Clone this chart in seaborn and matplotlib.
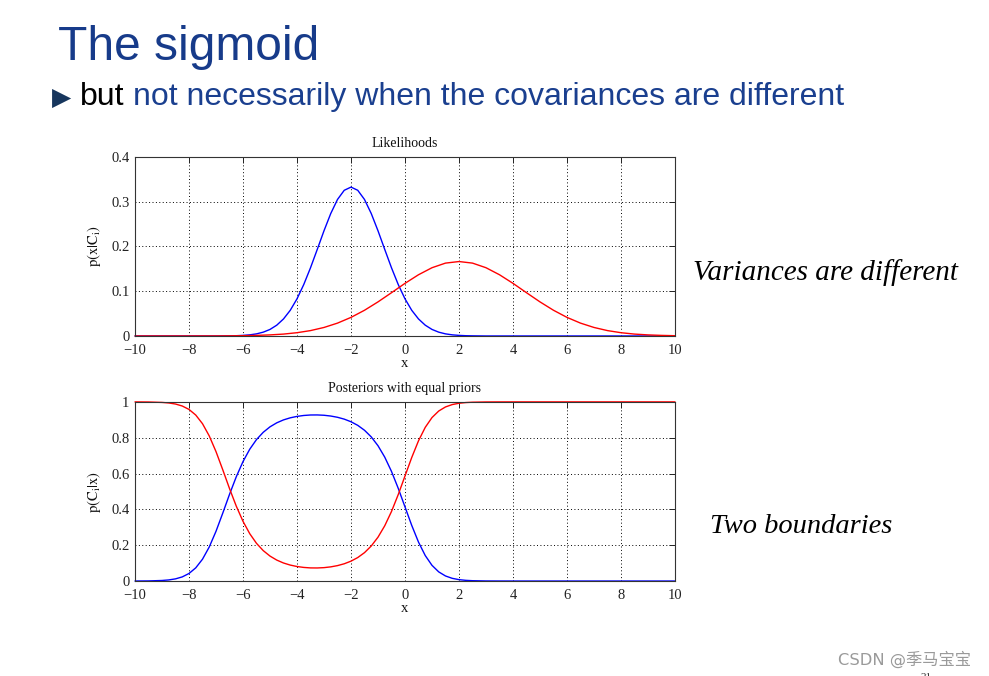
import matplotlib
matplotlib.use("Agg")
import matplotlib.pyplot as plt
import seaborn as sns

# likelihoods p(x|Ci)
lik_x_red = [-10, -9.5, -9, -8.5, -8, -7.5, -7, -6.5, -6, -5.5, -5, -4.5, -4, -3.5, -3,
             -2.5, -2, -1.5, -1, -0.5, 0, 0.5, 1, 1.5, 2, 2.5, 3, 3.5, 4, 4.5, 5, 5.5,
             6, 6.5, 7, 7.5, 8, 8.5, 9, 9.5, 10]
lik_red = [0.0000, 0.0000, 0.0000, 0.0000, 0.0000, 0.0001, 0.0001, 0.0003, 0.0006, 0.0013,
           0.0024, 0.0042, 0.0073, 0.0120, 0.0190, 0.0287, 0.0415, 0.0574, 0.0761, 0.0966,
           0.1175, 0.1367, 0.1524, 0.1627, 0.1662, 0.1627, 0.1524, 0.1367, 0.1175, 0.0966,
           0.0761, 0.0574, 0.0415, 0.0287, 0.0190, 0.0120, 0.0073, 0.0042, 0.0024, 0.0013,
           0.0006]

lik_x_blue = [-10, -9, -8, -7, -6.5, -6.25, -6, -5.75, -5.5, -5.25, -5, -4.75, -4.5, -4.25,
              -4, -3.75, -3.5, -3.25, -3, -2.75, -2.5, -2.25, -2, -1.75, -1.5, -1.25, -1,
              -0.75, -0.5, -0.25, 0, 0.25, 0.5, 0.75, 1, 1.25, 1.5, 1.75, 2, 2.25, 2.5,
              3, 4, 5, 6, 7, 8, 9, 10]
lik_blue = [0.0, 0.0, 0.0, 0.0, 0.0003, 0.0006, 0.0013, 0.0025, 0.0047, 0.0085, 0.0146,
            0.0241, 0.0380, 0.0573, 0.0829, 0.1148, 0.1522, 0.1932, 0.2349, 0.2734, 0.3048,
            0.3253, 0.3324, 0.3253, 0.3048, 0.2734, 0.2349, 0.1932, 0.1522, 0.1148, 0.0829,
            0.0573, 0.0380, 0.0241, 0.0146, 0.0085, 0.0047, 0.0025, 0.0013, 0.0006, 0.0003,
            0.0, 0.0, 0.0, 0.0, 0.0, 0.0, 0.0, 0.0]

# posteriors p(Ci|x) with equal priors, lower panel
post_x = [-10, -9.5, -9, -8.75, -8.5, -8.25, -8, -7.75, -7.5, -7.25, -7, -6.75, -6.5,
          -6.25, -6, -5.75, -5.5, -5.25, -5, -4.75, -4.5, -4.25, -4, -3.75, -3.5, -3.25,
          -3, -2.75, -2.5, -2.25, -2, -1.75, -1.5, -1.25, -1, -0.75, -0.5, -0.25, 0,
          0.25, 0.5, 0.75, 1, 1.25, 1.5, 1.75, 2, 2.25, 2.5, 3, 3.5, 4, 5, 6, 7, 8, 9, 10]
post_blue = [0.0001, 0.0006, 0.0030, 0.0061, 0.0120, 0.0230, 0.0421, 0.0735, 0.1218, 0.1900,
             0.2775, 0.3787, 0.4836, 0.5816, 0.6667, 0.7358, 0.7897, 0.8303, 0.8607, 0.8831,
             0.8994, 0.9110, 0.9190, 0.9241, 0.9268, 0.9271, 0.9253, 0.9210, 0.9140, 0.9037,
             0.8891, 0.8690, 0.8416, 0.8045, 0.7553, 0.6915, 0.6117, 0.5173, 0.4137, 0.3103,
             0.2173, 0.1422, 0.0875, 0.0509, 0.0282, 0.0150, 0.0077, 0.0038, 0.0018, 0.0004,
             0.0001, 0.0, 0.0, 0.0, 0.0, 0.0, 0.0, 0.0]
post_red = [0.9999, 0.9994, 0.9970, 0.9939, 0.9880, 0.9770, 0.9579, 0.9265, 0.8782, 0.8100,
            0.7225, 0.6213, 0.5164, 0.4184, 0.3333, 0.2642, 0.2103, 0.1697, 0.1393, 0.1169,
            0.1006, 0.0890, 0.0810, 0.0759, 0.0732, 0.0729, 0.0747, 0.0790, 0.0860, 0.0963,
            0.1109, 0.1310, 0.1584, 0.1955, 0.2447, 0.3085, 0.3883, 0.4827, 0.5863, 0.6897,
            0.7827, 0.8578, 0.9125, 0.9491, 0.9718, 0.9850, 0.9923, 0.9962, 0.9982, 0.9996,
            0.9999, 1.0, 1.0, 1.0, 1.0, 1.0, 1.0, 1.0]

x_ticks = [-10, -8, -6, -4, -2, 0, 2, 4, 6, 8, 10]
lik_yticks = [0, 0.1, 0.2, 0.3, 0.4]
lik_yticklabels = ["0", "0.1", "0.2", "0.3", "0.4"]
post_yticks = [0, 0.2, 0.4, 0.6, 0.8, 1]
post_yticklabels = ["0", "0.2", "0.4", "0.6", "0.8", "1"]

sns.set_style("white")
plt.rcParams["font.family"] = ["Liberation Serif", "DejaVu Serif"]
plt.rcParams["mathtext.fontset"] = "stix"
plt.rcParams["axes.unicode_minus"] = True

fig = plt.figure(figsize=(9.89, 6.76), dpi=100)
ax1 = fig.add_axes([0.1365, 0.503, 0.546, 0.265])
ax2 = fig.add_axes([0.1365, 0.1405, 0.546, 0.265])


def style_axes(ax, yticks, ylabels, ylim, title, ylabel):
    ax.set_xlim(-10, 10)
    ax.set_ylim(*ylim)
    ax.set_xticks(x_ticks)
    ax.set_xticklabels([str(t).replace("-", "\u2212") for t in x_ticks])
    ax.set_yticks(yticks)
    ax.set_yticklabels(ylabels)
    ax.grid(True, linestyle=(0, (1, 2.5)), color="black", linewidth=0.7)
    ax.tick_params(direction="in", length=4, width=0.7, top=True, right=True,
                   labelsize=10.5, colors="#222222")
    ax.tick_params(axis="x", pad=6)
    ax.tick_params(axis="y", pad=4)
    for s in ax.spines.values():
        s.set_color("#333333")
        s.set_linewidth(0.8)
    ax.set_title(title, fontsize=10, color="#111111", pad=7)
    ax.set_xlabel("x", fontsize=10.5, labelpad=0, color="#111111")
    ax.set_ylabel(ylabel, fontsize=10.5, labelpad=6, color="#111111")


sns.lineplot(x=lik_x_blue, y=lik_blue, ax=ax1, color="blue", linewidth=1, clip_on=False)
sns.lineplot(x=lik_x_red, y=lik_red, ax=ax1, color="red", linewidth=1, clip_on=False)
style_axes(ax1, lik_yticks, lik_yticklabels, (0, 0.4), "Likelihoods", r"$\mathrm{p(x|C_i)}$")

sns.lineplot(x=post_x, y=post_blue, ax=ax2, color="blue", linewidth=1, clip_on=False)
sns.lineplot(x=post_x, y=post_red, ax=ax2, color="red", linewidth=1, clip_on=False)
style_axes(ax2, post_yticks, post_yticklabels, (0, 1), "Posteriors with equal priors",
           r"$\mathrm{p(C_i|x)}$")

W, H = 989, 676
sans = ["Liberation Sans", "DejaVu Sans"]
fig.text(58 / W, 1 - 60 / H, "The sigmoid", fontsize=34.5, color="#173b8a",
         family=sans, va="baseline")
fig.text(52 / W, 1 - 105 / H, "\u25B6", fontsize=18, color="#17365d",
         family=["DejaVu Sans"], va="baseline")
fig.text(80 / W, 1 - 105 / H, "but", fontsize=23, color="black", family=sans, va="baseline")
fig.text(133 / W, 1 - 105 / H, "not necessarily when the covariances are different",
         fontsize=23, color="#1a3f8f", family=sans, va="baseline")

fig.text(693 / W, 1 - 280 / H, "Variances are different", fontsize=21, style="italic",
         color="black", va="baseline")
fig.text(710 / W, 1 - 533 / H, "Two boundaries", fontsize=20.5, style="italic",
         color="black", va="baseline")

fig.text(838 / W, 1 - 665 / H, "CSDN @季马宝宝", fontsize=11.7, color="#9a9a9a",
         family=["DejaVu Sans", "Noto Sans CJK SC"], va="baseline")
# page number, cut off by the bottom edge as in the slide
fig.text(921 / W, 1 - 680 / H, "21", fontsize=8, color="#333333", va="baseline")

fig.savefig("out.png", dpi=100)
